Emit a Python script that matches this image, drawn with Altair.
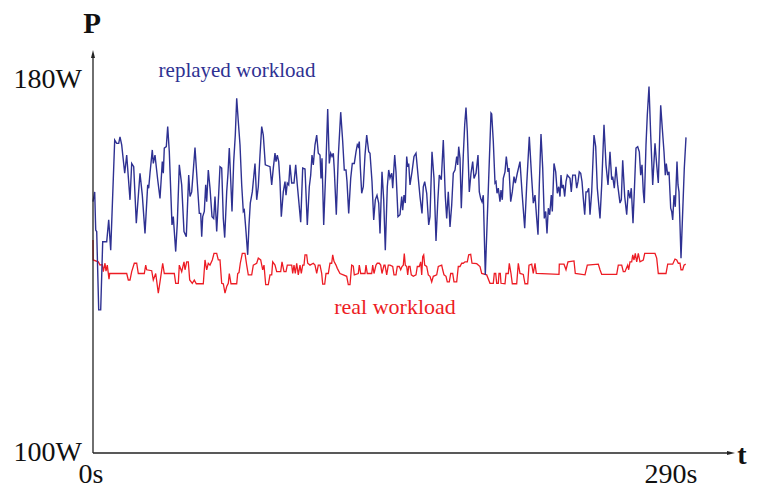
import altair as alt
import pandas as pd

# ---- data (time in s, power in W) ----
blue_t = [0, 0.85, 1.35, 1.85, 2.85, 3.85, 4.85, 6.85, 7.85, 8.85, 10.85, 11.85, 12.85, 13.5, 14.35,
          15.85, 16.85, 18.5, 19.35, 20.35, 21.65, 23.5, 24.65, 26, 27.35, 27.85, 28.5, 29.65, 30.15, 31,
          32.35, 33.5, 34.65, 35.15, 35.65, 36.65, 37.35, 38.15, 39.5, 40.15, 41.35, 42.15, 43.15, 44.35,
          45.5, 46.65, 47.85, 48.5, 49.35, 51, 52.15, 53.15, 53.85, 54.35, 54.85, 55.65, 56.35, 56.85,
          57.65, 58.5, 59.5, 60.35, 61, 61.85, 62.85, 63.5, 64.35, 65.15, 65.85, 66.85, 67.5, 68.15, 68.85,
          69.5, 70.35, 71.15, 71.85, 72.65, 73.5, 74.35, 75.15, 75.65, 76.5, 77.35, 78, 78.65, 79.65, 81,
          81.85, 82.65, 83.5, 84.35, 85.15, 86.15, 88.5, 89.35, 90.15, 91, 91.5, 92.15, 92.85, 93.5, 94.15,
          95.15, 96, 96.5, 97.15, 97.85, 98.5, 99.35, 100.5, 101.35, 102.15, 103.85, 104.85, 106, 107.15,
          108.15, 108.85, 109.5, 110.15, 111, 111.85, 112.65, 113.5, 114, 114.5, 115.35, 116.35, 117.35,
          118.15, 118.85, 119.5, 120.15, 120.65, 121.65, 122.65, 123.85, 124.85, 125.65, 126.5, 127,
          127.85, 128.85, 129.65, 130.65, 131.5, 132.15, 132.65, 133.15, 133.65, 134.35, 135.15, 136,
          136.85, 137.85, 138.5, 139.5, 140.35, 141.15, 142, 142.85, 143.5, 144.5, 145.35, 146.15, 147.15,
          147.85, 148.5, 149.35, 149.85, 150.85, 151.5, 152.5, 153.5, 154.35, 154.85, 155.5, 156.15,
          156.85, 157.35, 157.85, 158.5, 159.5, 160.5, 161.5, 162.5, 163.5, 164.5, 165.15, 165.85, 166.85,
          167.85, 168.5, 169.5, 170.5, 171.5, 172.35, 173.15, 174.15, 175.15, 176.15, 176.85, 177.65,
          178.5, 179.35, 180.15, 181, 181.85, 182.35, 182.85, 183.5, 184.15, 185.15, 185.85, 186.5,
          187.15, 188.15, 189, 189.85, 190.5, 191.5, 192.5, 193.15, 193.85, 194.5, 195.15, 196.15, 199,
          199.35, 200.15, 201, 201.5, 202, 202.65, 203.5, 204, 204.65, 205.15, 206, 206.65, 207.5, 208,
          208.85, 209.65, 210.5, 211.15, 212.15, 213.5, 214.5, 215.85, 216.85, 218.15, 219.35, 220.15,
          221, 221.85, 222.5, 223.15, 224, 224.85, 225.65, 226.35, 227, 227.65, 228.35, 229.15, 229.65,
          230.5, 231.35, 232.15, 232.85, 233.5, 234, 234.5, 235.15, 235.85, 236.5, 237.15, 238.5, 239.15,
          239.85, 241.15, 241.85, 242.5, 243.15, 243.85, 244.5, 245.15, 245.85, 246.5, 247.15, 247.85,
          248.5, 249.35, 250.5, 251.35, 252.15, 253.5, 254.35, 255.5, 256.5, 257.5, 258.5, 259.35,
          259.85, 260.65, 261.5, 262.35, 263.5, 264.15, 264.85, 265.85, 266.85, 267.65, 268.5, 269.15,
          270, 270.65, 271.5, 272.35, 273.15, 273.85, 274.5, 275.15, 275.65, 276.5, 277.15, 278, 278.85,
          279.85, 281, 281.85, 282.65, 283.85, 284.65, 285.5, 286.15, 286.65, 287.35, 288, 288.85,
          289.35, 289.85, 290.5, 291.15, 292, 292.5, 293, 294, 295.65, 296.5]
blue_w = [153.9, 156.0, 147.8, 147.5, 130.7, 130.7, 145.3, 145.3, 150.0, 143.5, 167.1, 166.4, 166.4, 167.8, 166.1,
          160.0, 163.9, 154.3, 162.1, 161.4, 149.3, 160.0, 155.3, 147.1, 157.5, 156.8, 160.0, 165.0, 162.1, 163.9,
          158.6, 154.6, 162.5, 160.0, 165.4, 165.7, 170.0, 164.6, 148.9, 150.7, 143.2, 149.3, 161.8, 157.5,
          147.5, 146.4, 159.6, 155.0, 156.0, 165.5, 157.9, 151.4, 151.4, 146.4, 150.7, 151.8, 157.5, 153.9,
          160.7, 156.8, 150.7, 150.3, 155.0, 147.5, 155.7, 161.4, 161.1, 150.3, 146.2, 156.0, 160.0, 165.4, 158.6,
          151.8, 162.5, 168.2, 176.1, 171.1, 166.1, 157.5, 151.8, 152.1, 147.5, 142.5, 148.9, 153.6, 156.0, 162.1,
          154.3, 157.1, 163.9, 170.0, 168.2, 161.8, 161.4, 157.5, 161.1, 164.3, 162.5, 163.9, 162.5, 158.2, 150.7,
          156.0, 158.2, 155.3, 157.9, 157.5, 161.8, 157.9, 157.9, 161.8, 157.5, 149.5, 161.1, 160.9, 148.9,
          157.1, 159.6, 163.9, 161.8, 166.1, 168.2, 164.3, 163.9, 158.9, 163.2, 148.9, 160.3, 173.8,
          162.1, 164.3, 163.6, 164.3, 160.7, 151.1, 163.6, 173.1, 166.8, 160.7, 160.7, 158.2,
          151.4, 158.9, 162.1, 162.1, 164.6, 166.1, 165.7, 166.8, 161.4, 155.7, 157.1, 163.9,
          168.2, 164.6, 164.3, 158.2, 150.0, 154.3, 155.3, 153.6, 147.1, 160.3, 154.3, 143.5, 157.1,
          160.7, 159.0, 160.0, 156.8, 163.9, 160.3, 150.7, 151.1, 155.0, 152.1, 155.3, 153.6,
          163.6, 161.4, 162.1, 157.5, 160.3, 163.6, 164.3, 159.6, 155.0, 151.4, 157.1, 158.2, 155.7,
          148.9, 150.7, 164.6, 158.9, 145.5, 153.6, 159.6, 158.6, 167.1, 155.0, 150.3, 156.0,
          148.5, 153.2, 160.0, 160.7, 163.6, 161.8, 165.7, 163.2, 152.5, 163.9, 170.4, 174.1,
          168.9, 156.0, 160.0, 162.5, 158.9, 160.0, 163.9, 156.0, 154.6, 153.9, 155.3, 138.2, 172.9,
          172.7, 166.8, 157.9, 158.2, 155.7, 156.8, 153.9, 156.4, 154.3, 158.9, 160.3, 163.6, 160.3, 161.1,
          153.9, 156.0, 159.3, 157.9, 160.0, 162.5, 156.0, 148.2, 157.5, 167.8, 158.9, 153.6,
          155.3, 150.3, 146.8, 157.5, 168.4, 161.1, 150.3, 151.8, 147.1, 152.5, 151.1, 155.3, 151.8,
          162.1, 160.3, 155.7, 157.1, 155.0, 159.6, 156.8, 157.5, 155.0, 158.2, 159.6, 158.9, 156.0,
          159.6, 159.6, 156.8, 158.2, 160.3, 160.0, 158.2, 154.6, 151.1, 156.0, 156.0, 156.8,
          151.1, 156.0, 168.2, 165.7, 156.8, 150.3, 157.5, 170.4, 161.8, 157.5, 164.6, 158.6,
          159.3, 156.8, 161.4, 157.5, 153.6, 154.3, 162.8, 155.0, 151.1, 156.4, 154.6, 156.8,
          149.3, 156.0, 165.4, 165.7, 164.6, 159.6, 161.8, 156.0, 153.6, 166.1, 172.5, 178.6, 168.2,
          157.5, 166.4, 161.8, 157.9, 174.6, 169.6, 164.6, 159.6, 162.1, 159.6, 160.3, 152.5,
          151.8, 150.0, 155.3, 152.8, 162.5, 157.5, 156.0, 141.8, 161.1, 167.7]

red_t = [0, 0.1, 2.65, 3.5, 4.65, 5.15, 6, 6.5, 7.15, 8, 8.35, 16.85, 17.65, 18.5, 19.35, 20.65, 21.85,
         22.65, 25.65, 26.35, 26.85, 29.35, 30.15, 31.35, 32.65, 33.5, 34.85, 35.65, 40.65, 41.35, 42.65,
         43.15, 44.35, 45.5, 46, 46.85, 47.65, 48.35, 49.65, 50.65, 51.65, 55.15, 56, 56.85, 57.65, 58.5,
         59.65, 60.5, 61.85, 62.65, 63.5, 64.35, 65.15, 66, 66.85, 67.65, 68.15, 69, 71.85, 72.35, 73,
         73.65, 74.65, 76, 76.85, 77.65, 79.35, 80.15, 81.85, 82.65, 83.85, 84.85, 85.5, 86.35, 87.65,
         88.5, 89.35, 89.85, 91, 91.85, 93.85, 94.5, 95.5, 96.5, 97.15, 99.35, 99.85, 100.5, 101.15,
         101.85, 102.65, 103.5, 104.15, 104.85, 105.5, 106, 106.85, 107.35, 108.5, 110.15, 111, 111.85,
         112.65, 113.5, 114.35, 114.85, 115.85, 116.5, 117.65, 118.5, 119.35, 119.85, 120.5, 121.5,
         122.15, 123.5, 125.15, 126.85, 127.65, 128.5, 129.35, 130.15, 130.65, 132.65, 133.15, 133.85,
         136, 136.5, 137.15, 139.35, 139.85, 140.5, 141.5, 142.15, 143.15, 143.85, 144.5, 145.5, 146,
         146.85, 147.65, 148.5, 149.85, 150.5, 151.5, 152.15, 153.15, 153.85, 154.5, 155.15, 155.65,
         156.15, 156.85, 157.35, 157.85, 158.5, 159.15, 160.15, 161.5, 162.15, 163.15, 163.85, 164.35,
         164.85, 165.35, 165.85, 166.85, 167.65, 168.5, 169.35, 170.15, 171.85, 172.65, 174.35, 174.85,
         175.5, 176.5, 177.15, 178.15, 178.85, 179.85, 180.5, 181.85, 182.65, 183.5, 184.35, 185.15,
         186, 187.15, 187.85, 188.85, 189.5, 191.85, 193.5, 194.35, 196.85, 198.5, 200.15, 200.65,
         201.35, 201.85, 202.65, 203, 203.65, 204, 206, 206.5, 207.65, 208.15, 209, 209.65, 211.85,
         212.65, 213.5, 215.15, 216, 217.35, 218, 219.35, 220.15, 221, 221.65, 233, 233.15, 235.5,
         236.5, 237.5, 240.5, 241.15, 246, 247.15, 252.65, 253.5, 254.35, 261.85, 262.65, 264.35,
         265.15, 266, 266.85, 267.35, 267.85, 268.5, 269.35, 269.85, 270.5, 271.15, 271.85, 272.65,
         273.5, 275.15, 275.85, 281, 281.85, 282.65, 286.5, 287.35, 289.85, 291, 291.85, 292.65, 293.5,
         294, 294.85, 295.5, 296.35]
red_w = [145.7, 141.4, 141.0, 140.3, 140.4, 138.9, 140.7, 139.0, 140.3, 137.3, 138.5, 138.5, 137.1, 137.1, 138.9, 140.7, 140.7,
         138.5, 138.5, 140.3, 139.3, 139.1, 137.1, 138.5, 134.3, 136.7, 140.7, 138.5, 138.5, 136.4, 136.4,
         140.3, 138.9, 141.0, 139.3, 141.0, 141.0, 137.1, 136.4, 137.1, 136.3, 136.3, 141.4, 139.3, 140.7, 140.3,
         141.4, 142.8, 142.8, 141.4, 141.4, 136.4, 136.3, 134.3, 135.7, 136.4, 138.5, 136.3, 136.3, 138.5, 138.7,
         140.7, 142.8, 142.8, 140.3, 138.2, 138.2, 140.3, 140.7, 141.8, 141.4, 139.3, 140.3, 136.1, 136.1,
         138.2, 138.2, 141.0, 140.3, 138.9, 138.9, 141.0, 138.9, 138.9, 140.3, 140.3, 138.5, 140.3, 138.5,
         140.7, 138.2, 140.3, 138.5, 140.3, 140.3, 142.5, 142.5, 140.7, 140.3, 140.7, 140.3, 138.5,
         140.3, 140.3, 138.5, 136.2, 136.2, 138.5, 138.5, 140.7, 140.7, 142.5, 141.1, 140.3,
         139.6, 138.5, 138.2, 137.9, 136.1, 136.1, 140.3, 140.1, 138.2, 138.5, 140.3, 138.5,
         138.5, 140.3, 138.5, 138.5, 140.3, 138.5, 140.3, 140.7, 140.7, 140.3, 138.5, 140.3, 140.3,
         138.2, 140.3, 140.3, 140.0, 138.2, 138.2, 140.0, 140.0, 139.3, 140.0, 140.3, 142.8,
         140.3, 140.0, 138.2, 140.0, 140.0, 138.2, 137.9, 138.2, 140.0, 140.0, 141.0, 138.2,
         142.1, 142.5, 140.3, 140.0, 138.2, 137.9, 136.7, 137.9, 138.2, 140.0, 140.3, 139.3,
         138.2, 137.9, 136.7, 136.7, 138.5, 138.5, 136.7, 136.7, 140.0, 140.0, 140.7, 140.7,
         141.0, 141.0, 142.5, 142.6, 140.7, 140.6, 140.0, 138.5, 138.2, 136.4, 136.4, 138.5,
         138.5, 136.4, 136.4, 138.5, 138.5, 136.4, 136.3, 138.5, 138.5, 140.7, 138.5, 136.3, 136.3,
         140.7, 138.5, 138.3, 136.3, 136.3, 140.3, 140.5, 138.5, 140.7, 138.5, 138.3, 140.5, 140.5,
         139.3, 141.0, 141.2, 138.5, 138.2, 140.3, 140.5, 139.3, 138.3, 138.3, 140.3, 140.3,
         138.9, 138.9, 139.8, 140.3, 139.3, 141.0, 141.0, 142.5, 141.4, 142.8, 141.0, 142.8,
         141.0, 141.4, 142.8, 142.8, 141.8, 138.5, 138.5, 140.5, 140.5, 141.6, 141.4, 140.7, 140.7,
         139.3, 139.3, 140.3, 140.5]

y_tick_values = [100, 180]
y_tick_labels = ["100W", "180W"]
x_tick_values = [0, 290]
x_tick_labels = ["0s", "290s"]

BLUE = "#2E3192"
RED = "#ED1C24"
AXIS = "#222222"
FONT = "Liberation Serif"

blue_df = pd.DataFrame({"t": blue_t, "W": blue_w})
red_df = pd.DataFrame({"t": red_t, "W": red_w})
ytk = pd.DataFrame({"W": y_tick_values, "label": y_tick_labels})
xtk = pd.DataFrame({"t": x_tick_values, "label": x_tick_labels})

xs = alt.Scale(domain=[0, 322.5], nice=False, zero=False)
ys = alt.Scale(domain=[100, 180], nice=False, zero=False)

blue = alt.Chart(blue_df).mark_line(color=BLUE, strokeWidth=1.4, clip=False).encode(
    x=alt.X("t:Q", scale=xs, axis=None), y=alt.Y("W:Q", scale=ys, axis=None))
red = alt.Chart(red_df).mark_line(color=RED, strokeWidth=1.3, clip=False).encode(
    x=alt.X("t:Q", scale=xs, axis=None), y=alt.Y("W:Q", scale=ys, axis=None))

yaxis = alt.Chart().mark_rule(color=AXIS, strokeWidth=1.3).encode(
    x=alt.value(0), y=alt.value(-26), y2=alt.value(373))
xaxis = alt.Chart().mark_rule(color=AXIS, strokeWidth=1.3).encode(
    x=alt.value(0), x2=alt.value(638), y=alt.value(373))
yarrow = alt.Chart().mark_point(shape="M0,-1L0.5,1L-0.5,1Z", filled=True, opacity=1,
                                color=AXIS, size=64).encode(x=alt.value(0), y=alt.value(-26))
xarrow = alt.Chart().mark_point(shape="M1,0L-1,-0.5L-1,0.5Z", filled=True, opacity=1,
                                color=AXIS, size=64).encode(x=alt.value(638), y=alt.value(373))

ylabels = alt.Chart(ytk).mark_text(font=FONT, fontSize=28, align="right", baseline="middle",
                                   color="#111111").encode(
    x=alt.value(-11), y=alt.Y("W:Q", scale=ys, axis=None), text="label:N")
xlabels = alt.Chart(xtk).mark_text(font=FONT, fontSize=28, align="center", baseline="alphabetic",
                                   color="#111111", dx=-2).encode(
    x=alt.X("t:Q", scale=xs, axis=None), y=alt.value(403), text="label:N")

ptitle = alt.Chart().mark_text(text="P", font=FONT, fontSize=29, fontWeight="bold",
                               align="center", baseline="alphabetic", color="#111111").encode(
    x=alt.value(-1), y=alt.value(-47))
ttitle = alt.Chart().mark_text(text="t", font=FONT, fontSize=28, fontWeight="bold",
                               align="center", baseline="alphabetic", color="#111111").encode(
    x=alt.value(649), y=alt.value(384))
blue_lbl = alt.Chart().mark_text(text="replayed workload", font=FONT, fontSize=21,
                                 align="center", baseline="alphabetic", color=BLUE).encode(
    x=alt.value(144), y=alt.value(-3))
red_lbl = alt.Chart().mark_text(text="real workload", font=FONT, fontSize=22,
                                align="center", baseline="alphabetic", color=RED).encode(
    x=alt.value(302), y=alt.value(234))

chart = alt.layer(red, blue, yaxis, xaxis, yarrow, xarrow, ylabels, xlabels,
                  ptitle, ttitle, blue_lbl, red_lbl).properties(
    width=645, height=373,
    padding={"left": 85, "top": 72, "right": 12, "bottom": 37},
    autosize=alt.AutoSizeParams(type="none"),
    background="white",
).configure_view(strokeWidth=0)

chart.save("out.html", embed_options={"renderer": "svg", "actions": False})
